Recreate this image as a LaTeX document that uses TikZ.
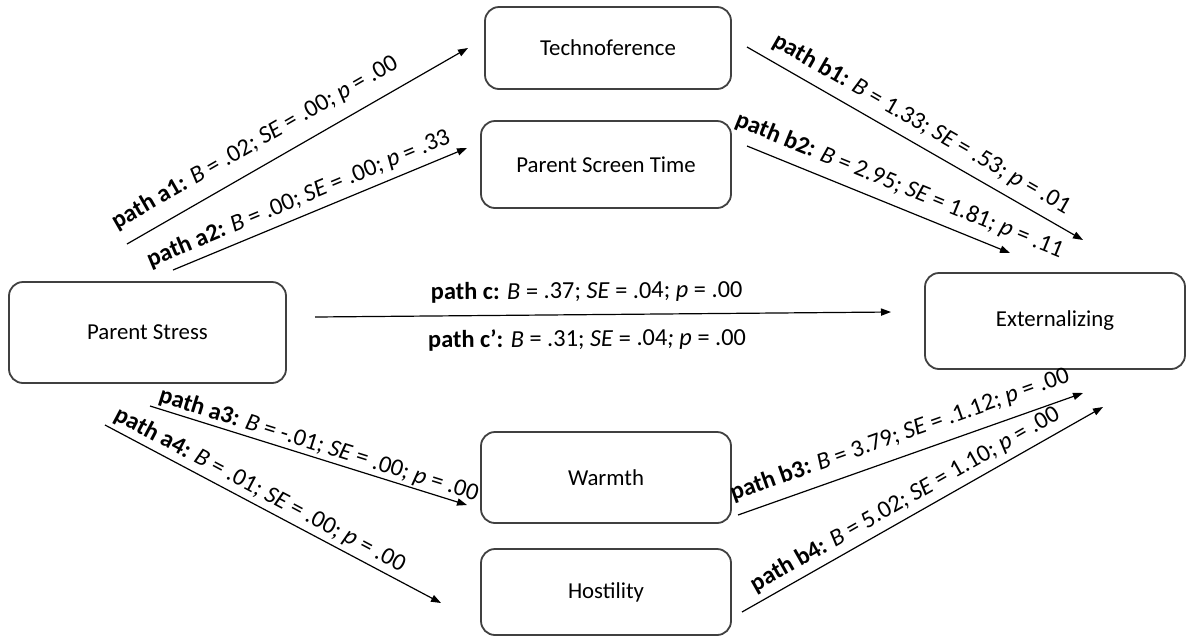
\documentclass[tikz,border=0pt]{standalone}
\usepackage{fontspec}
\setmainfont{Carlito}
\usetikzlibrary{arrows.meta}
\begin{document}
\begin{tikzpicture}[x=0.5pt,y=-0.5pt,
  box/.style={draw=black!75, line width=0.9pt, rounded corners=7pt, font=\fontsize{11.4}{13}\selectfont, inner sep=0pt, align=center},
  conn/.style={line width=0.6pt, -{Triangle[length=5pt,width=3.6pt]}},
  lbl/.style={font=\fontsize{12.2}{14}\selectfont, sloped, inner sep=0pt}]
\useasboundingbox (0,0) rectangle (1193,638);
% boxes
\node[box, minimum width=123pt, minimum height=41pt] (tech) at (608,48) {Technoference};
\node[box, minimum width=125pt, minimum height=43.5pt] (pst) at (606,164.5) {Parent Screen Time};
\node[box, minimum width=138.5pt, minimum height=50.5pt] (ps) at (147.5,332.5) {Parent Stress};
\node[box, minimum width=130pt, minimum height=48pt] (ext) at (1055,321) {Externalizing};
\node[box, minimum width=125pt, minimum height=45.5pt] (warm) at (606,477.5) {Warmth};
\node[box, minimum width=125pt, minimum height=43pt] (host) at (606,592) {Hostility};
% connector end points
\coordinate (a1s) at (127,244); \coordinate (a1e) at (468,48);
\coordinate (a2s) at (173,270); \coordinate (a2e) at (467,148);
\coordinate (b1s) at (747,47);  \coordinate (b1e) at (1083,240);
\coordinate (b2s) at (747,146); \coordinate (b2e) at (1010,253);
\coordinate (cs)  at (315,317); \coordinate (ce)  at (891,312);
\coordinate (a3s) at (150,406); \coordinate (a3e) at (467,505);
\coordinate (a4s) at (105,425); \coordinate (a4e) at (441,603);
\coordinate (b3s) at (738,515); \coordinate (b3e) at (1083,393);
\coordinate (b4s) at (742,612); \coordinate (b4e) at (1103,407);
% connectors
\draw[conn] (a1s) -- node[lbl, above=6.5pt, pos=.41] {\textbf{path a1:} \textit{B} = .02; \textit{SE} = .00; \textit{p} = .00} (a1e);
\draw[conn] (a2s) -- node[lbl, above=3.3pt, pos=.45] {\textbf{path a2:} \textit{B} = .00; \textit{SE} = .00; \textit{p} = .33} (a2e);
\draw[conn] (b1s) -- node[lbl, above=4.5pt, pos=.49] {\textbf{path b1:} \textit{B} = 1.33; \textit{SE} = .53; \textit{p} = .01} (b1e);
\draw[conn] (b2s) -- node[lbl, above=4.8pt, pos=.55] {\textbf{path b2:} \textit{B} = 2.95; \textit{SE} = 1.81; \textit{p} = .11} (b2e);
\draw[conn] (cs) -- node[lbl, above=5.8pt, pos=.472] {\textbf{path c:} \textit{B} = .37; \textit{SE} = .04; \textit{p} = .00}
                    node[lbl, below=6.7pt, pos=.472] {\textbf{path c’:} \textit{B} = .31; \textit{SE} = .04\textit{;} \textit{p} = .00} (ce);
\draw[conn] (a3s) -- node[lbl, above=1pt, pos=.52] {\textbf{path a3:} \textit{B} = -.01; \textit{SE} = .00; \textit{p} = .00} (a3e);
\draw[conn] (a4s) -- node[lbl, above=2pt, pos=.44] {\textbf{path a4:} \textit{B} = .01; \textit{SE} = .00; \textit{p} = .00} (a4e);
\draw[conn] (b3s) -- node[lbl, above=5.2pt, pos=.49] {\textbf{path b3:} \textit{B} = 3.79; \textit{SE} = .1.12; \textit{p} = .00} (b3e);
\draw[conn] (b4s) -- node[lbl, above=3pt, pos=.475] {\textbf{path b4:} \textit{B} = 5.02; \textit{SE} = 1.10; \textit{p} = .00} (b4e);
\end{tikzpicture}
\end{document}
